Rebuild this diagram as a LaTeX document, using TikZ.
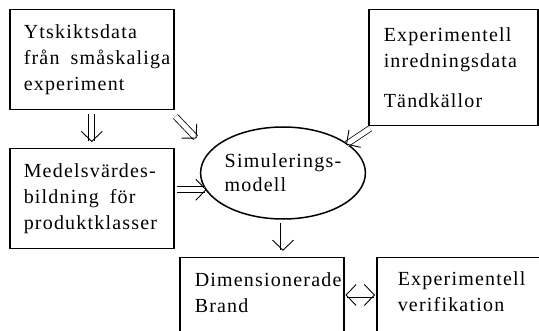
\documentclass[tikz,border=0pt]{standalone}
\usepackage{fontspec}
\setmainfont{Liberation Serif}[LetterSpace=6]
\usetikzlibrary{arrows.meta,shapes.geometric}
\newcommand{\wgap}{\hspace{11pt}}

\begin{document}
\begin{tikzpicture}[x=1pt,y=-1pt,
		font=\fontsize{20}{26}\selectfont,
		box/.style={draw,line width=1.5pt,anchor=north west,align=left,inner xsep=14pt},
		dtip/.tip={Straight Barb[length=10pt,width=21pt,line width=0.9pt]},
		imp/.style={double,double distance=5pt,line width=0.8pt,-dtip}]
		\useasboundingbox (0,0) rectangle (539,331);

		\node[box,text width=136,minimum height=100] (ytskikt) at (9,9) {Ytskiktsdata\\\mbox{fr\aa n\wgap sm\aa skaliga}\\experiment};
		\node[box,text width=136,minimum height=100] (medel) at (9,148) {Medelsv\"ardes-\\bildning\wgap f\"or\\produktklasser};
		\node[box,text width=139,minimum height=116,inner xsep=15pt] (inredn) at (368,9) {Experimentell\\inredningsdata\\[14pt]T\"andk\"allor};
		\node[ellipse,draw,line width=1.5pt,minimum width=146,minimum height=92,inner sep=0pt,align=left,
			font=\fontsize{20}{24}\selectfont] (simmod) at (283,173) {Simulerings-\\modell};
		% the two lower boxes run past the bottom edge
		\node[box,inner xsep=15pt,inner ysep=14.5pt] (dim) at (179,257) {\parbox[t][90pt][t]{134pt}{\raggedright Dimensionerade\\Brand}};
		\node[box,inner xsep=21pt,inner ysep=13.5pt] (verif) at (376,257) {\parbox[t][90pt][t]{160pt}{\raggedright Experimentell\\verifikation}};

		\draw[imp,shorten <=4pt,shorten >=6pt] (ytskikt.south) -- (medel.north);
		\draw[imp] ([shift={(1,6)}]ytskikt.south east) -- ++(21,22);
		\draw[imp] ([shift={(2,2)}]inredn.south west) -- ++(-24,16);
		\draw[imp] ([shift={(2,-9)}]medel.east) -- ++(30,0);
		\draw[imp] ([yshift=-3pt]simmod.south) -- ++(0,28);
		\draw[imp,dtip-dtip] ([shift={(1,38)}]dim.north east) -- ([shift={(-1,38)}]verif.north west);
	\end{tikzpicture}
\end{document}
